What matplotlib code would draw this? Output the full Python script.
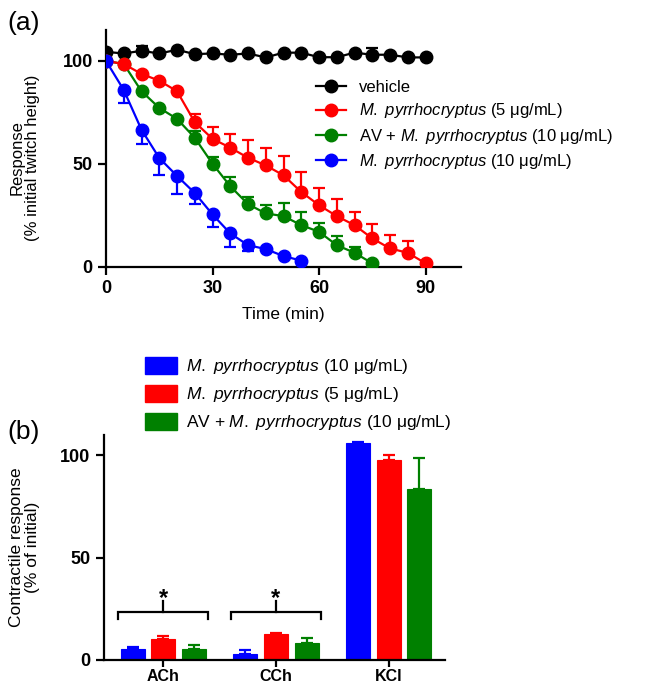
import numpy as np
import matplotlib
matplotlib.use("Agg")
import matplotlib.pyplot as plt
from matplotlib.lines import Line2D
from matplotlib.patches import Patch

plt.rcParams['font.family'] = ['Liberation Sans', 'DejaVu Sans']
plt.rcParams['mathtext.fontset'] = 'custom'
plt.rcParams['mathtext.rm'] = 'Liberation Sans'
plt.rcParams['mathtext.it'] = 'Liberation Sans:italic'

# ---------------- data (a) ----------------
time_vehicle = [0, 5, 10, 15, 20, 25, 30, 35, 40, 45, 50, 55, 60, 65, 70, 75, 80, 85, 90]
vehicle = [104.4, 103.6, 104.9, 103.6, 105.4, 103.3, 103.6, 103.0, 103.6, 101.7,
           104.0, 104.0, 101.8, 101.8, 104.0, 103.0, 103.0, 101.7, 101.7]
vehicle_err = [0, 0, 2.5, 0, 0, 0, 0, 0, 0, 0, 0, 0, 0, 0, 0, 3.2, 0, 0, 0]

time_red = [0, 5, 10, 15, 20, 25, 30, 35, 40, 45, 50, 55, 60, 65, 70, 75, 80, 85, 90]
red5 = [100, 98.5, 93.7, 90.4, 85.3, 70.3, 62.2, 57.9, 53.0, 49.3, 44.5, 36.4,
        30.0, 24.7, 20.3, 13.9, 9.0, 6.9, 1.8]
red5_err = [0, 0, 0, 0, 0, 4.0, 5.6, 6.7, 8.4, 8.6, 9.2, 9.7, 8.5, 8.5, 6.4, 7.2, 6.5, 5.8, 0]

time_green = [0, 5, 10, 15, 20, 25, 30, 35, 40, 45, 50, 55, 60, 65, 70, 75]
green_av = [100, 98.5, 85.3, 77.2, 71.9, 62.7, 50.1, 39.2, 30.5, 26.0, 24.7, 20.3,
            17.1, 10.6, 6.9, 1.8]
green_av_err = [0, 0, 0, 0, 0, 3.5, 3.2, 4.5, 3.5, 4.0, 6.4, 6.4, 4.3, 4.4, 2.9, 0]

time_blue = [0, 5, 10, 15, 20, 25, 30, 35, 40, 45, 50, 55]
blue10 = [100, 85.9, 66.6, 52.9, 44.2, 35.9, 25.5, 16.3, 10.6, 8.7, 5.3, 3.1]
blue10_err = [0, 6.5, 6.8, 8.4, 8.9, 5.4, 6.3, 6.5, 2.7, 0, 0, 0]

legend_a = ['vehicle',
            r'$\it{M.\ pyrrhocryptus}$ (5 μg/mL)',
            r'AV + $\it{M.\ pyrrhocryptus}$ (10 μg/mL)',
            r'$\it{M.\ pyrrhocryptus}$ (10 μg/mL)']

# ---------------- data (b) ----------------
agonists = ['ACh', 'CCh', 'KCl']
bar_blue10 = [5.2, 2.9, 106.0]
bar_blue10_err = [1.3, 1.8, 0.7]
bar_red5 = [10.1, 12.7, 97.6]
bar_red5_err = [1.8, 0.6, 2.7]
bar_green_av = [5.4, 8.4, 83.8]
bar_green_av_err = [1.9, 2.3, 15.1]
legend_b = [r'$\it{M.\ pyrrhocryptus}$ (10 μg/mL)',
            r'$\it{M.\ pyrrhocryptus}$ (5 μg/mL)',
            r'AV + $\it{M.\ pyrrhocryptus}$ (10 μg/mL)']
sig_groups = ['ACh', 'CCh']

BLUE, RED, GREEN, BLACK = '#0000FF', '#FF0000', '#008000', '#000000'

W, H = 646, 685
fig = plt.figure(figsize=(W / 100, H / 100), dpi=100)

def fx(px):
    return px / W

def fy(py):
    return 1 - py / H

# ---------------- panel (a) ----------------
axa = fig.add_axes([fx(106), fy(267), fx(461) - fx(106), fy(30) - fy(267)])

def series(ax, t, y, err, color, direction):
    t = np.asarray(t, float)
    y = np.asarray(y, float)
    e = np.asarray(err, float)
    m = e > 0
    if m.any():
        if direction == 'up':
            yerr = [np.zeros(m.sum()), e[m]]
        else:
            yerr = [e[m], np.zeros(m.sum())]
        ax.errorbar(t[m], y[m], yerr=yerr, fmt='none', ecolor=color,
                    elinewidth=1.6, capsize=4.5, capthick=1.6, zorder=2)
    ax.plot(t, y, '-o', color=color, lw=1.6, ms=9, zorder=3)

series(axa, time_vehicle, vehicle, vehicle_err, BLACK, 'up')
series(axa, time_green, green_av, green_av_err, GREEN, 'up')
series(axa, time_red, red5, red5_err, RED, 'up')
series(axa, time_blue, blue10, blue10_err, BLUE, 'down')

axa.set_xlim(0, 100)
axa.set_ylim(0, 115)
axa.set_xticks([0, 30, 60, 90])
axa.set_yticks([0, 50, 100])
for s in ['top', 'right']:
    axa.spines[s].set_visible(False)
for s in ['left', 'bottom']:
    axa.spines[s].set_linewidth(1.6)
axa.tick_params(width=1.6, length=6, labelsize=13)
for lab in axa.get_xticklabels() + axa.get_yticklabels():
    lab.set_fontweight('bold')
axa.set_xlabel('Time (min)', fontsize=12.5, labelpad=7)
axa.set_ylabel('Response\n(% initial twitch height)', fontsize=12, linespacing=1.05)
axa.yaxis.set_label_coords(-0.186, 0.46)

handles_a = [Line2D([], [], color=c, marker='o', ms=9, lw=1.6)
             for c in [BLACK, RED, GREEN, BLUE]]
axa.legend(handles_a, legend_a, loc='upper left',
           bbox_to_anchor=(fx(316), fy(80)), bbox_transform=fig.transFigure,
           frameon=False, fontsize=12, handlelength=1.8, handletextpad=0.8,
           labelspacing=0.38, borderpad=0, borderaxespad=0, numpoints=1)

fig.text(fx(7), fy(23), '(a)', fontsize=19, va='center', ha='left')

# ---------------- panel (b) ----------------
axb = fig.add_axes([fx(103.5), fy(660), fx(445) - fx(103.5), fy(435) - fy(660)])
x = np.arange(len(agonists))
bw = 0.213
off = 0.272
for vals, errs, col, dx in [(bar_blue10, bar_blue10_err, BLUE, -off),
                            (bar_red5, bar_red5_err, RED, 0),
                            (bar_green_av, bar_green_av_err, GREEN, off)]:
    axb.bar(x + dx, vals, width=bw, color=col, edgecolor=col, linewidth=0.8,
            yerr=[np.zeros(len(vals)), errs],
            error_kw=dict(ecolor=col, elinewidth=1.6, capsize=4.5, capthick=1.6),
            zorder=2)

for g in sig_groups:
    i = agonists.index(g)
    base = 23.5
    axb.plot([i - 0.4, i - 0.4, i + 0.4, i + 0.4],
             [base - 3.3, base, base, base - 3.3], color='black', lw=1.6,
             solid_joinstyle='miter')
    axb.plot([i, i], [base, base + 5.2], color='black', lw=1.6)
    axb.text(i, 27.0, '*', ha='center', va='baseline', fontsize=17,
             fontweight='bold')

axb.set_xlim(-0.53, 2.50)
axb.set_ylim(0, 110)
axb.set_xticks(x)
axb.set_xticklabels(agonists, fontweight='bold', fontsize=11.5)
axb.set_yticks([0, 50, 100])
for s in ['top', 'right']:
    axb.spines[s].set_visible(False)
for s in ['left', 'bottom']:
    axb.spines[s].set_linewidth(1.6)
axb.tick_params(axis='y', width=1.6, length=6, labelsize=13)
axb.tick_params(axis='x', width=1.6, length=5, pad=1.5)
for lab in axb.get_yticklabels():
    lab.set_fontweight('bold')
axb.set_ylabel('Contractile response\n(% of initial)', fontsize=12.5, linespacing=1.05)
axb.yaxis.set_label_coords(-0.186, 0.5)

handles_b = [Patch(facecolor=c, edgecolor=c) for c in [BLUE, RED, GREEN]]
fig.legend(handles_b, legend_b, loc='upper left',
           bbox_to_anchor=(fx(145), fy(357)), frameon=False, fontsize=12.5,
           handlelength=1.85, handleheight=1.1, handletextpad=0.5,
           labelspacing=0.5, borderpad=0, borderaxespad=0)

fig.text(fx(7), fy(432), '(b)', fontsize=19, va='center', ha='left')

fig.savefig('out.png', dpi=100)
